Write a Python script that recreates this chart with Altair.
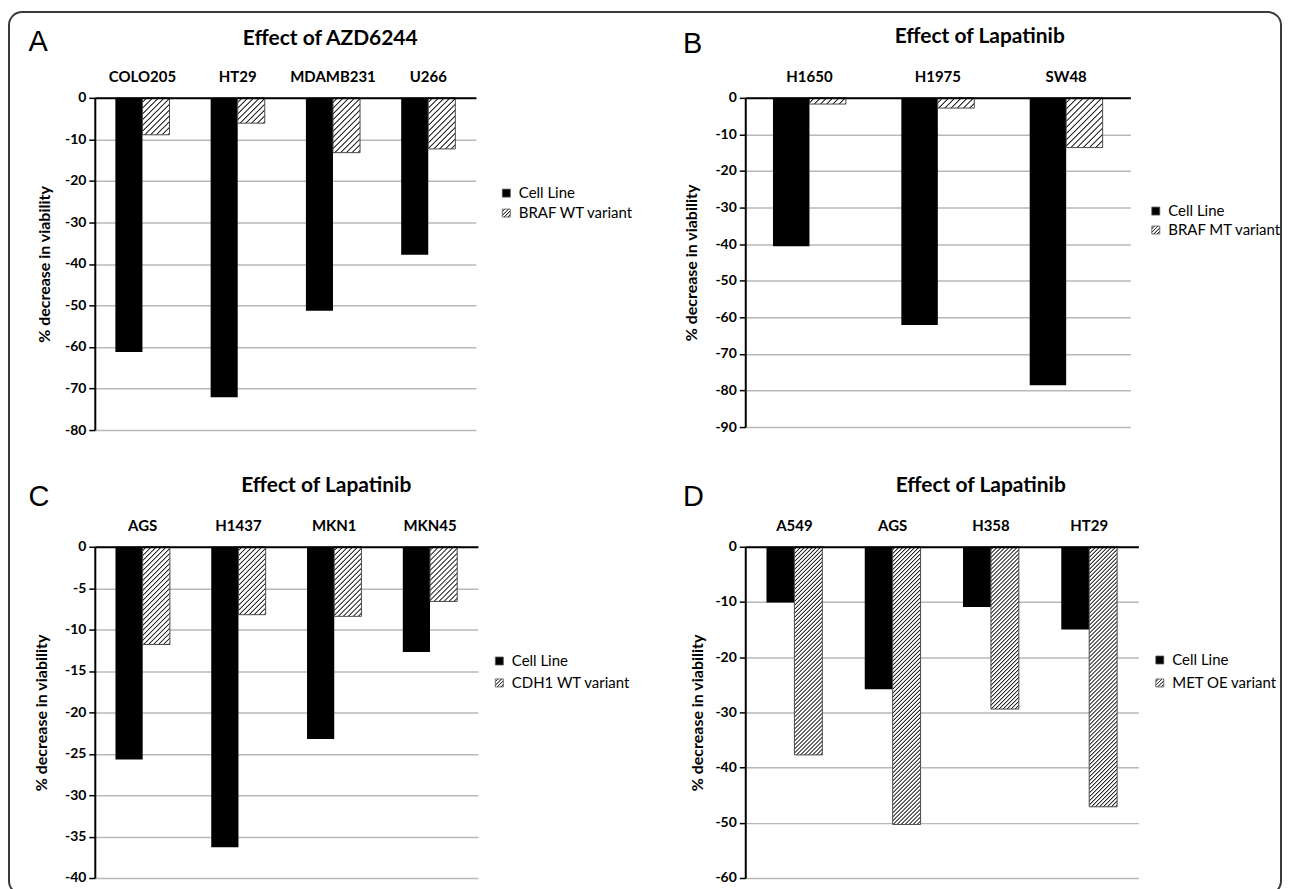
import math
import altair as alt

CELL = "Cell Line"

# ---- data ----
a_cats = ["COLO205", "HT29", "MDAMB231", "U266"]
a_cell = [-61.2, -72.1, -51.3, -37.8]
a_var = [-8.9, -6.1, -13.2, -12.3]
a_ticks = [0, -10, -20, -30, -40, -50, -60, -70, -80]

b_cats = ["H1650", "H1975", "SW48"]
b_cell = [-40.6, -62.1, -78.6]
b_var = [-1.7, -2.8, -13.6]
b_ticks = [0, -10, -20, -30, -40, -50, -60, -70, -80, -90]

c_cats = ["AGS", "H1437", "MKN1", "MKN45"]
c_cell = [-25.7, -36.3, -23.2, -12.7]
c_var = [-11.8, -8.2, -8.4, -6.6]
c_ticks = [0, -5, -10, -15, -20, -25, -30, -35, -40]

d_cats = ["A549", "AGS", "H358", "HT29"]
d_cell = [-10.1, -25.8, -10.9, -15.0]
d_var = [-37.7, -50.3, -29.4, -47.1]
d_ticks = [0, -10, -20, -30, -40, -50, -60]

PAD = 0.76
DARK = "#262626"
LIGHT = "#ffffff"
FONT = "Lato"
RAMP = 1.0


def hatch_stops(L, P, lw, e=RAMP):
    stops = []
    b = 0.0

    def add(pos, col):
        stops.append({"offset": round(min(max(pos / L, 0.0), 1.0), 5), "color": col})

    while b < L:
        add(b, LIGHT)
        add(b + P - lw - 2 * e, LIGHT)
        add(b + P - lw - e, DARK)
        add(b + P - e, DARK)
        add(b + P, LIGHT)
        b += P
    return stops


def bar_gradient(w, h, P, lw):
    L = w + h + 2
    d = w * w + h * h
    return {"gradient": "linear", "x1": 0, "y1": 0,
            "x2": L * w / d, "y2": L * h / d,
            "stops": hatch_stops(L, P, lw)}


def legend_gradient_expr(s, P, lw):
    stops = hatch_stops(2 * s, P, lw, 0.7)
    st = ",".join("{offset:%s,color:'%s'}" % (x["offset"], x["color"]) for x in stops)
    return "{gradient:'linear',x1:0,y1:0,x2:1,y2:1,stops:[%s]}" % st


def panel(letter, title, cats, cell, var, var_label, ticks, W, H, P, lw,
          title_dx, title_dy, yt_x, letter_xy, legend_xy, row_pad, frame=False):
    ymin = ticks[-1]
    ppu = H / abs(ymin)
    band = W / len(cats)
    w = band / (2 + 2 * PAD)
    rows = []
    for c, v1, v2 in zip(cats, cell, var):
        rows.append({"cat": c, "series": CELL, "value": v1})
        rows.append({"cat": c, "series": var_label, "value": v2,
                     "grad": bar_gradient(w, abs(v2) * ppu, P, lw)})
    data = alt.Data(values=rows)

    x = alt.X("cat:N", sort=cats, scale=alt.Scale(paddingInner=0, paddingOuter=0),
              axis=alt.Axis(orient="top", title=letter, titleX=letter_xy[0], titleY=letter_xy[1],
                            titleAlign="left", titleBaseline="alphabetic", titleAngle=0,
                            titleFont="Liberation Sans", titleFontSize=29, titleFontWeight="normal",
                            titleColor="black",
                            labelFont=FONT, labelFontSize=15, labelFontWeight="bold",
                            labelColor="black", labelAngle=0, labelPadding=13,
                            ticks=False, tickSize=0, domainColor="black", domainWidth=2,
                            grid=False, zindex=1))
    xo = alt.XOffset("series:N", scale=alt.Scale(domain=[CELL, var_label],
                                                  paddingOuter=PAD, paddingInner=0))
    y = alt.Y("value:Q", scale=alt.Scale(domain=[ymin, 0], nice=False),
              axis=alt.Axis(values=ticks, labelExpr="'' + datum.value",
                            title="% decrease in viability", titleX=yt_x, titleY=H / 2,
                            titleAngle=-90, titleAlign="center", titleBaseline="middle",
                            titleFont=FONT, titleFontSize=16, titleFontWeight="bold",
                            titleColor="black",
                            labelFont=FONT, labelFontSize=14, labelFontWeight="bold",
                            labelColor="black", labelPadding=3,
                            tickSize=6, tickWidth=1.5, tickColor="black",
                            domainColor="black", domainWidth=2,
                            gridColor="#b8b8b8", gridWidth=1.5))

    lg_s = 8
    black = alt.Chart(data).transform_filter(alt.datum.series == CELL).mark_bar().encode(
        x=x, xOffset=xo, y=y,
        fill=alt.Fill("series:N",
                      scale=alt.Scale(domain=[CELL, var_label],
                                      range=["black", {"expr": legend_gradient_expr(lg_s, 3.6, 0.5)}]),
                      legend=alt.Legend(title=None, orient="none",
                                        legendX=legend_xy[0], legendY=legend_xy[1],
                                        symbolType="square", symbolSize=lg_s * lg_s,
                                        symbolStrokeColor="#555555", symbolStrokeWidth=0.8,
                                        labelFont=FONT, labelFontSize=15, labelColor="black",
                                        labelOffset=5, rowPadding=row_pad, padding=0,
                                        labelLimit=400)),
    )
    hatched = alt.Chart(data).transform_filter(alt.datum.series == var_label).mark_bar(
        stroke="#4a4a4a", strokeWidth=1
    ).encode(
        x=x, xOffset=xo, y=y,
        fill=alt.Fill(field="grad", type="nominal", scale=None, legend=None),
    )
    layers = [black, hatched]
    if frame:
        fr = alt.Chart(alt.Data(values=[{"k": 0}])).mark_rect(
            filled=False, stroke="#3a3a3a", strokeWidth=2, cornerRadius=13
        ).encode(x=alt.value(-86), x2=alt.value(1189), y=alt.value(-86), y2=alt.value(798))
        layers = [fr] + layers
    return alt.layer(*layers).properties(
        width=W, height=H,
        title=alt.TitleParams(title, anchor="start", align="center", dx=title_dx, dy=title_dy,
                              frame="group", font=FONT, fontSize=21, fontWeight="bold",
                              color="black", offset=0, baseline="alphabetic"),
    )


pa = panel("A", "Effect of AZD6244", a_cats, a_cell, a_var, "BRAF WT variant", a_ticks,
           382, 333, 5.8, 0.5, 236, 55, -50, (-67, -47), (405, 88), 4, frame=True)
pb = panel("B", "Effect of Lapatinib", b_cats, b_cell, b_var, "BRAF MT variant", b_ticks,
           386, 330, 6.2, 0.5, 235, 34, -54, (-63, -45), (404, 106), 3)
pc = panel("C", "Effect of Lapatinib", c_cats, c_cell, c_var, "CDH1 WT variant", c_ticks,
           384, 332, 5.0, 0.4, 232, 30, -53, (-67, -41), (398, 107), 6)
pd_ = panel("D", "Effect of Lapatinib", d_cats, d_cell, d_var, "MET OE variant", d_ticks,
            394, 332, 4.0, 0.4, 236, 30, -48, (-63, -41), (408, 106), 7)

chart = alt.concat(pa, pb, pc, pd_, columns=2, spacing={"row": 117, "column": 268},
                   bounds="flush").resolve_scale(
    fill="independent", xOffset="independent", x="independent", y="independent"
).resolve_legend(fill="independent").properties(
    padding={"left": 0, "top": 2, "right": 0, "bottom": 0},
    background="white",
).configure_view(stroke=None)

chart.save("out.html", embed_options={"renderer": "svg", "actions": False})
